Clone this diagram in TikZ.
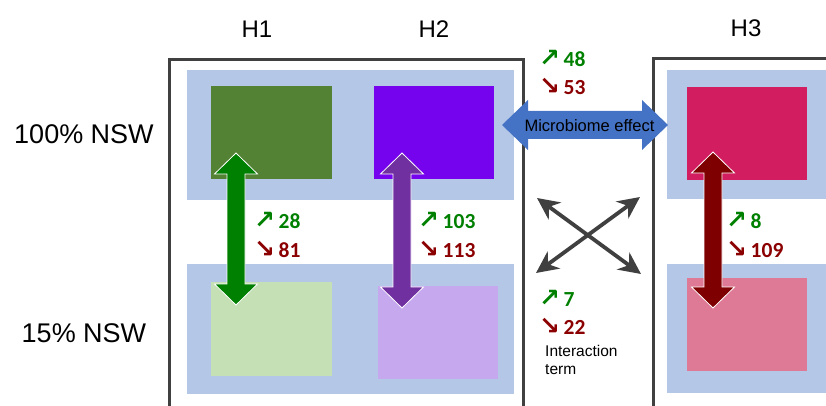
\documentclass[tikz,border=0pt]{standalone}
\usepackage{fontspec}
\setmainfont{Liberation Sans}
\newfontfamily\numfont{Carlito}
\newfontfamily\arrfont{DejaVu Sans}
\usetikzlibrary{arrows.meta}
\definecolor{boxblue}{HTML}{B4C7E7}
\definecolor{dkgreen}{HTML}{548235}
\definecolor{vpurple}{HTML}{7503EE}
\definecolor{lgreen}{HTML}{C5E0B4}
\definecolor{lpurple}{HTML}{C5A8EE}
\definecolor{hotpink}{HTML}{D21D61}
\definecolor{lpink}{HTML}{DF7A96}
\definecolor{upgreen}{HTML}{008000}
\definecolor{downred}{HTML}{8B0000}
\definecolor{arrgreen}{HTML}{008000}
\definecolor{arrpurple}{HTML}{7030A0}
\definecolor{arrred}{HTML}{7F0000}
\definecolor{effblue}{HTML}{4472C4}
\definecolor{framegray}{HTML}{404040}
\definecolor{crossgray}{HTML}{404040}
\newcommand\vdarrow[4]{%
  \filldraw[fill=#4,draw=white,line width=0.8pt]
    ({#1},{#2}) -- ({#1+21.5},{#2+21}) -- ({#1+9},{#2+21}) -- ({#1+9},{#3-21})
    -- ({#1+21.5},{#3-21}) -- ({#1},{#3}) -- ({#1-21.5},{#3-21}) -- ({#1-9},{#3-21})
    -- ({#1-9},{#2+21}) -- ({#1-21.5},{#2+21}) -- cycle;}
\newcommand\uparr{{\arrfont\fontsize{25}{26}\selectfont ↗}}
\newcommand\dnarr{{\arrfont\fontsize{25}{26}\selectfont ↘}}
\begin{document}
\begin{tikzpicture}[x=1pt,y=-1pt,
  rect/.style={draw=none,inner sep=0pt,outer sep=0pt},
  frame/.style={draw=framegray,line width=3pt},
  head/.style={font=\fontsize{24}{26}\selectfont,inner sep=0pt},
  rowlab/.style={font=\fontsize{27}{29}\selectfont,inner sep=0pt},
  upnum/.style={anchor=base west,inner sep=0pt,text=upgreen,font=\fontsize{21.5}{24}\selectfont\bfseries},
  dnnum/.style={anchor=base west,inner sep=0pt,text=downred,font=\fontsize{21.5}{24}\selectfont\bfseries},
  crossarr/.style={draw=crossgray,line width=3.8pt,{Stealth[length=22pt,width=21pt,inset=7pt]}-{Stealth[length=22pt,width=21pt,inset=7pt]}},
  small/.style={font=\fontsize{15.5}{17}\selectfont,inner sep=0pt,anchor=west}
]
\useasboundingbox (0,0) rectangle (826,406);
% frames
\draw[frame] (169,408) -- (169,60) -- (523,60) -- (523,408);
\draw[frame] (653,408) -- (653,59) -- (828,59);
% light blue backgrounds
\fill[boxblue] (187,70) rectangle (514,200);
\fill[boxblue] (187,264) rectangle (514,394);
\fill[boxblue] (667,70) rectangle (826,199);
\fill[boxblue] (667,264) rectangle (826,393);
% coloured boxes
\node[rect,fill=dkgreen,minimum width=121pt,minimum height=93pt] (g1) at (271.5,132.5) {};
\node[rect,fill=vpurple,minimum width=120pt,minimum height=93pt] (p1) at (434,132.5) {};
\node[rect,fill=lgreen,minimum width=121pt,minimum height=94pt] (g2) at (271.5,329) {};
\node[rect,fill=lpurple,minimum width=120pt,minimum height=93pt] (p2) at (438,332.5) {};
\node[rect,fill=hotpink,minimum width=120pt,minimum height=93pt] (r1) at (747,133.5) {};
\node[rect,fill=lpink,minimum width=120pt,minimum height=93pt] (r2) at (747,324.5) {};
% vertical double arrows
\vdarrow{236}{153}{305}{arrgreen}
\vdarrow{402}{153}{308}{arrpurple}
\vdarrow{713}{152}{308}{arrred}
% microbiome effect arrow
\fill[effblue] (502,125) -- (528,100) -- (528,111) -- (642,111) -- (642,100) -- (668,125)
  -- (642,150) -- (642,139) -- (528,139) -- (528,150) -- cycle;
\node[inner sep=0pt,font=\fontsize{16.5}{18}\selectfont] (me) at (589.5,126) {Microbiome effect};
% cross arrows
\coordinate (ctl) at (537,198);
\coordinate (ctr) at (640,197);
\coordinate (cbl) at (536,273);
\coordinate (cbr) at (641,274);
\draw[crossarr] (ctl) -- (cbr);
\draw[crossarr] (cbl) -- (ctr);
% headings
\node[head] (H1) at (257,29) {H1};
\node[head] (H2) at (434,29) {H2};
\node[head] (H3) at (746,28) {H3};
\node[rowlab] (n100) at (84,134) {100\% NSW};
\node[rowlab] (n15) at (84,333) {15\% NSW};
% counts
\node[upnum] (u1) at (254,228) {\uparr\,{\numfont 28}};
\node[dnnum] (d1) at (254,257) {\dnarr\,{\numfont 81}};
\node[upnum] (u2) at (418,228) {\uparr\,{\numfont 103}};
\node[dnnum] (d2) at (418,257) {\dnarr\,{\numfont 113}};
\node[upnum] (u3) at (726,228) {\uparr\,{\numfont 8}};
\node[dnnum] (d3) at (726,257) {\dnarr\,{\numfont 109}};
\node[upnum] (u4) at (539,67) {\uparr\,{\numfont 48}};
\node[dnnum] (d4) at (539,95) {\dnarr\,{\numfont 53}};
\node[upnum] (u5) at (539,306) {\uparr\,{\numfont 7}};
\node[dnnum] (d5) at (539,334) {\dnarr\,{\numfont 22}};
\node[small] (it1) at (545,351) {Interaction};
\node[small] (it2) at (545,370) {term};
\end{tikzpicture}
\end{document}
